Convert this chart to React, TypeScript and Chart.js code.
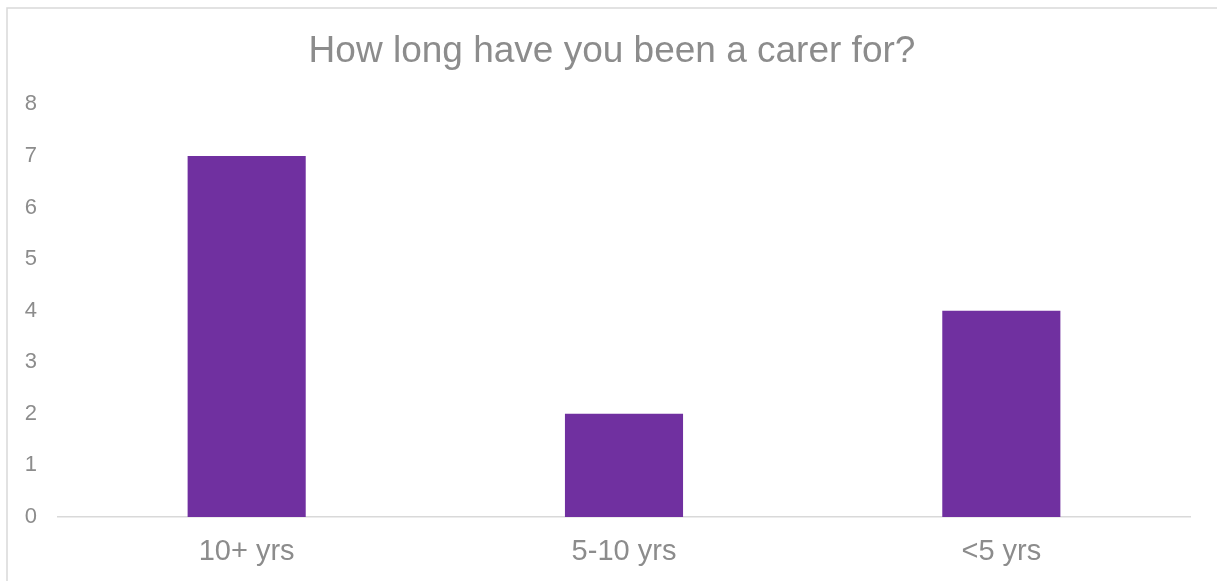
import React, { useEffect, useRef } from "react";
import { Chart, registerables } from "chart.js";

Chart.register(...registerables);

const categories = ["10+ yrs", "5-10 yrs", "<5 yrs"];
const values = [7, 2, 4];
const titleText = "How long have you been a carer for?";

const textColor = "#8c8c8c";
const barColor = "#7030A0";
const lineColor = "#d9d9d9";
const font = "'Liberation Sans', Arial, sans-serif";

const framePlugin = {
  id: "frame",
  beforeDraw(chart: any) {
    const ctx = chart.ctx;
    ctx.save();
    ctx.strokeStyle = lineColor;
    ctx.lineWidth = 1.5;
    ctx.beginPath();
    ctx.moveTo(7, chart.height);
    ctx.lineTo(7, 8);
    ctx.lineTo(chart.width, 8);
    ctx.stroke();
    ctx.restore();
  },
};

export default function App() {
  const ref = useRef<HTMLCanvasElement>(null);
  useEffect(() => {
    document.body.style.margin = "0";
    const chart = new Chart(ref.current!, {
      type: "bar",
      data: {
        labels: categories,
        datasets: [
          {
            data: values,
            backgroundColor: barColor,
            categoryPercentage: 1,
            barPercentage: 0.313,
          },
        ],
      },
      options: {
        animation: false,
        responsive: false,
        maintainAspectRatio: false,
        layout: { padding: { left: 7, right: 0, top: 0, bottom: 0 } },
        plugins: {
          legend: { display: false },
          tooltip: { enabled: false },
          title: {
            display: true,
            text: titleText,
            color: textColor,
            font: { family: font, size: 37, weight: "normal" },
            padding: { top: 30, bottom: 30 },
          },
        },
        scales: {
          x: {
            grid: { display: false, drawTicks: false },
            border: { display: true, color: lineColor, width: 1.5 },
            ticks: {
              color: textColor,
              font: { family: font, size: 29 },
              padding: 18,
            },
            afterFit(scale: any) {
              scale.height = 64;
            },
          },
          y: {
            min: 0,
            max: 8,
            grid: { display: false, drawTicks: false },
            border: { display: false },
            ticks: {
              stepSize: 1,
              color: textColor,
              font: { family: font, size: 22 },
              padding: 21,
            },
            afterFit(scale: any) {
              scale.width = 51;
            },
          },
          yRight: {
            position: "right",
            min: 0,
            max: 8,
            grid: { display: false, drawTicks: false },
            border: { display: false },
            ticks: { display: false },
            afterFit(scale: any) {
              scale.width = 27;
            },
          },
        },
      },
      plugins: [framePlugin],
    });
    return () => chart.destroy();
  }, []);
  return (
    <div style={{ position: "relative", width: 1217, height: 581 }}>
      <canvas ref={ref} width={1217} height={581} style={{ display: "block" }} />
    </div>
  );
}
